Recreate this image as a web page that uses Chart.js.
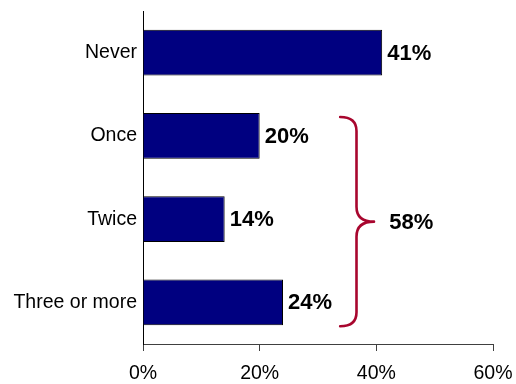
<!DOCTYPE html>
<html>
<head>
<meta charset="utf-8">
<script src="https://cdn.jsdelivr.net/npm/chart.js@4"></script>
<style>
  html, body { margin: 0; padding: 0; background: #ffffff; }
  #c { display: block; }
</style>
</head>
<body>
<canvas id="c" width="516" height="384"></canvas>
<script>
// ---- data ----
const categories = ['Never', 'Once', 'Twice', 'Three or more'];
const shares = [41, 20, 14, 24];
const xTickValues = [0, 20, 40, 60];
const groupLabel = '58%';          // combined share of Once / Twice / Three or more
const groupFirst = 1;              // index of first category in bracket
const groupLast = 3;               // index of last category in bracket

const FONT = '"Liberation Sans", Arial, Helvetica, sans-serif';

const labelPlugin = {
  id: 'barLabels',
  afterDatasetsDraw(chart) {
    const ctx = chart.ctx;
    const meta = chart.getDatasetMeta(0);
    const xs = chart.scales.x;
    ctx.save();
    ctx.fillStyle = '#000000';
    ctx.font = 'bold 22px ' + FONT;
    ctx.textAlign = 'left';
    ctx.textBaseline = 'middle';
    meta.data.forEach((bar, i) => {
      ctx.fillText(shares[i] + '%', bar.x + 5, bar.y + 1);
    });

    // bracket grouping the last three categories
    const b1 = meta.data[groupFirst], b3 = meta.data[groupLast];
    const top = b1.y - b1.height / 2 + 4;
    const bot = b3.y + b3.height / 2 + 1;
    const mid = (top + bot) / 2;
    const L = xs.getPixelForValue(33.8);
    const M = xs.getPixelForValue(36.6);
    const T = xs.getPixelForValue(39.6);
    ctx.strokeStyle = '#A8062E';
    ctx.lineWidth = 2.6;
    ctx.lineCap = 'round';
    ctx.lineJoin = 'round';
    ctx.beginPath();
    ctx.moveTo(L, top);
    ctx.quadraticCurveTo(M, top, M, top + 14);
    ctx.lineTo(M, mid - 15);
    ctx.quadraticCurveTo(M, mid, T, mid);
    ctx.quadraticCurveTo(M, mid, M, mid + 15);
    ctx.lineTo(M, bot - 14);
    ctx.quadraticCurveTo(M, bot, L, bot);
    ctx.stroke();

    ctx.fillStyle = '#000000';
    ctx.font = 'bold 22px ' + FONT;
    ctx.fillText(groupLabel, xs.getPixelForValue(42.2), mid + 1);
    ctx.restore();
  }
};

new Chart(document.getElementById('c'), {
  type: 'bar',
  data: {
    labels: categories,
    datasets: [{
      data: shares,
      backgroundColor: '#000080',
      borderColor: '#000000',
      borderWidth: 1,
      barPercentage: 0.55,
      categoryPercentage: 1.0
    }]
  },
  options: {
    indexAxis: 'y',
    responsive: false,
    animation: false,
    events: [],
    layout: { padding: { top: 11, right: 23, left: 0, bottom: 0 } },
    plugins: { legend: { display: false }, tooltip: { enabled: false } },
    scales: {
      x: {
        min: 0,
        max: 60,
        afterBuildTicks(scale) { scale.ticks = xTickValues.map(v => ({ value: v })); },
        afterFit(scale) {
          scale.height = 40;
          scale.paddingLeft = 0; scale.paddingRight = 0;
          scale.paddingTop = 0; scale.paddingBottom = 0;
        },
        grid: {
          display: true,
          drawOnChartArea: false,
          drawTicks: true,
          tickLength: 7,
          color: '#404040',
          lineWidth: 1
        },
        border: { display: true, color: '#404040', width: 1 },
        ticks: {
          color: '#000000',
          font: { family: FONT, size: 19.5 },
          padding: 11,
          maxRotation: 0,
          callback: (v) => v + '%'
        }
      },
      y: {
        afterFit(scale) {
          scale.width = 143;
          scale.paddingLeft = 0; scale.paddingRight = 0;
          scale.paddingTop = 0; scale.paddingBottom = 0;
        },
        grid: { display: false, drawTicks: false },
        border: { display: true, color: '#000000', width: 1 },
        ticks: {
          color: '#000000',
          font: { family: FONT, size: 19.5 },
          padding: 6
        }
      }
    }
  },
  plugins: [labelPlugin]
});
</script>
</body>
</html>
